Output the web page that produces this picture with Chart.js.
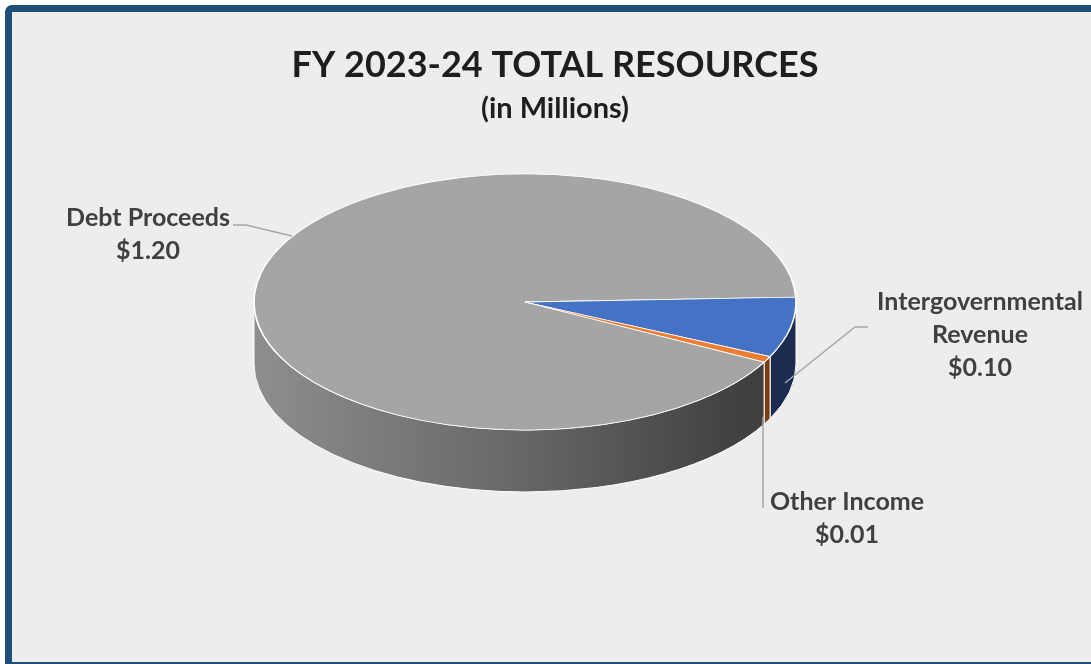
<!DOCTYPE html>
<html>
<head>
<meta charset="utf-8">
<script src="https://cdn.jsdelivr.net/npm/chart.js@4/dist/chart.umd.min.js"></script>
<style>
  body { margin: 0; background: #ffffff; width: 1091px; height: 664px; overflow: hidden; position: relative; }
  #frame {
    position: absolute; left: 5px; top: 5px; width: 1110px; height: 664px;
    box-sizing: border-box; border: 7px solid #1F4E79; border-radius: 7px;
    background: #EDEDED;
  }
  #chart { position: absolute; left: 0; top: 0; }
</style>
</head>
<body>
<div id="frame"></div>
<canvas id="chart" width="1091" height="664"></canvas>
<script>
// datos del grafico
const categories = ['Debt Proceeds', 'Intergovernmental Revenue', 'Other Income'];
const values = [1.20, 0.10, 0.01];
const topColors = ['#A5A5A5', '#4472C4', '#ED7D31'];
const sideColors = ['gradient', '#1B2C51', '#7A3C10'];

// geometria del pie "3D" (elipse en pantalla)
const PIE = { cx: 525, cy: 302, rx: 271, ry: 128, depth: 62 };

function visibleParts(s, e) {
  // parte frontal del borde: angulos entre 0 y PI
  const TWO = Math.PI * 2;
  let s2 = ((s % TWO) + TWO) % TWO;
  let e2 = s2 + (e - s);
  const parts = [];
  [[0, Math.PI], [TWO, TWO + Math.PI]].forEach(([a, b]) => {
    const p = Math.max(a, s2), q = Math.min(b, e2);
    if (q > p) parts.push([p, q]);
  });
  return parts;
}

const pie3d = {
  id: 'pie3d',
  beforeDatasetsDraw(chart) {
    const ctx = chart.ctx;
    const meta = chart.getDatasetMeta(0);
    const { cx, cy, rx, ry, depth } = PIE;

    ctx.save();
    const grad = ctx.createLinearGradient(cx - rx, 0, cx + rx, 0);
    grad.addColorStop(0, '#8E8E8E');
    grad.addColorStop(0.5, '#666666');
    grad.addColorStop(0.88, '#424242');
    grad.addColorStop(1, '#3C3C3C');
    meta.data.forEach((arc, i) => {
      visibleParts(arc.startAngle, arc.endAngle).forEach(([p, q]) => {
        ctx.beginPath();
        ctx.ellipse(cx, cy, rx, ry, 0, p, q, false);
        ctx.lineTo(cx + rx * Math.cos(q), cy + depth + ry * Math.sin(q));
        ctx.ellipse(cx, cy + depth, rx, ry, 0, q, p, true);
        ctx.closePath();
        ctx.fillStyle = sideColors[i] === 'gradient' ? grad : sideColors[i];
        ctx.fill();
        ctx.strokeStyle = '#FFFFFF';
        ctx.lineWidth = 1;
        ctx.stroke();
      });
    });
    ctx.restore();

    // la cara superior se aplana a elipse
    const a0 = meta.data[0];
    ctx.save();
    ctx.translate(cx, cy);
    ctx.scale(rx / a0.outerRadius, ry / a0.outerRadius);
    ctx.translate(-a0.x, -a0.y);
  },
  afterDatasetsDraw(chart) {
    chart.ctx.restore();
  }
};

// etiquetas con lineas guia
const labelBoxes = [
  { x: 148, y: 218, lines: ['Debt Proceeds'], leader: [[233, 225], [246, 225], [292, 236]] },
  { x: 980, y: 302, lines: ['Intergovernmental', 'Revenue'], leader: [[868, 327], [855, 327], [785, 383]] },
  { x: 847, y: 502, lines: ['Other Income'], leader: [[763, 508], [763, 417]] }
];

const pieLabels = {
  id: 'pieLabels',
  afterDraw(chart) {
    const ctx = chart.ctx;
    ctx.save();
    labelBoxes.forEach((b, i) => {
      ctx.beginPath();
      b.leader.forEach(([x, y], k) => k ? ctx.lineTo(x, y) : ctx.moveTo(x, y));
      ctx.strokeStyle = '#A6A6A6';
      ctx.lineWidth = 1.5;
      ctx.stroke();

      const text = b.lines.concat(['$' + values[i].toFixed(2)]);
      ctx.font = 'bold 25px Lato';
      ctx.fillStyle = '#404040';
      ctx.textAlign = 'center';
      ctx.textBaseline = 'middle';
      text.forEach((t, k) => ctx.fillText(t, b.x, b.y + k * 33));
    });
    ctx.restore();
  }
};

new Chart(document.getElementById('chart').getContext('2d'), {
  type: 'pie',
  data: {
    labels: categories,
    datasets: [{
      data: values,
      backgroundColor: topColors,
      borderColor: '#FFFFFF',
      borderWidth: 1.5,
      clip: false
    }]
  },
  options: {
    responsive: false,
    animation: false,
    rotation: 118,
    layout: { padding: { left: 19, right: 0, top: 0, bottom: 30 } },
    plugins: {
      legend: { display: false },
      tooltip: { enabled: false },
      title: {
        display: true,
        text: 'FY 2023-24 TOTAL RESOURCES',
        color: '#1E1E1E',
        font: { family: 'Lato', size: 36, weight: 'bold' },
        padding: { top: 44, bottom: 2 }
      },
      subtitle: {
        display: true,
        text: '(in Millions)',
        color: '#1E1E1E',
        font: { family: 'Lato', size: 29, weight: 'bold' },
        padding: { top: 2, bottom: 10 }
      }
    }
  },
  plugins: [pie3d, pieLabels]
});
</script>
</body>
</html>
